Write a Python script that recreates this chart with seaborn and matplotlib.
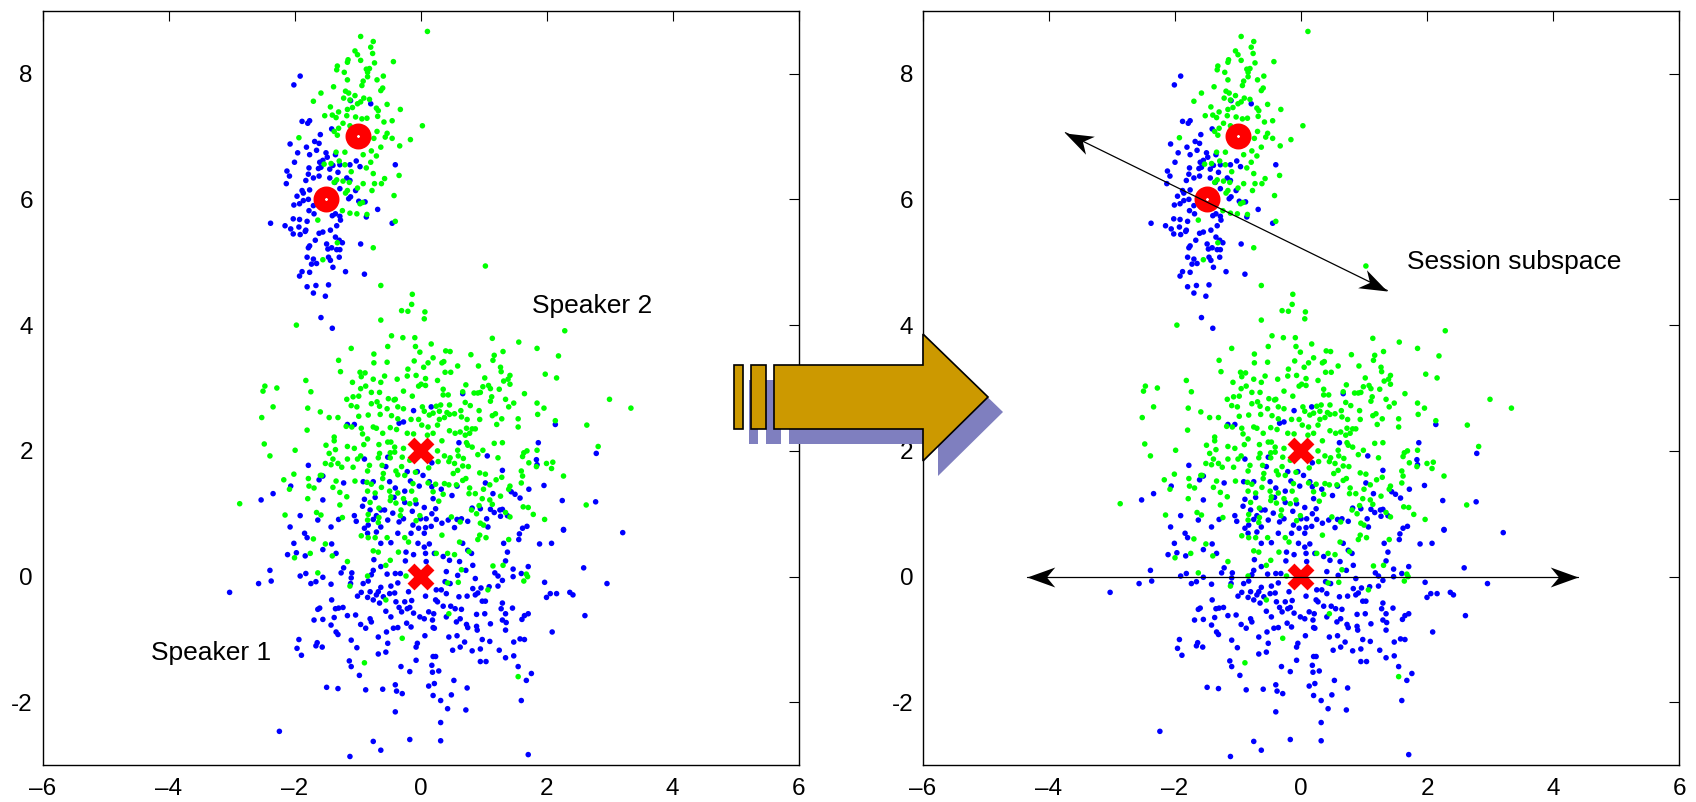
"""
Speaker / session subspace illustration: two scatter panels joined by a block arrow
"""
import math
import matplotlib
matplotlib.use("Agg")
import matplotlib.pyplot as plt
import seaborn as sns
import pandas as pd
from matplotlib.patches import Polygon
from matplotlib.markers import MarkerStyle

# points, (x, y)
# speaker 2 (upper cloud), session 1 = blue
spk2_sess1 = [
    (-1.91, 7.96), (-2.01, 7.82), (-1.88, 7.24), (-1.76, 7.25), (-1.79, 7.21), (-1.41, 7.12),
    (-1.59, 7.03), (-0.79, 7.52), (-1.11, 7.57), (-2.07, 6.88), (-1.68, 6.92), (-1.61, 6.89),
    (-1.81, 6.83), (-1.95, 6.74), (-1.76, 6.71), (-1.65, 6.78), (-1.50, 6.74), (-1.48, 6.67),
    (-1.35, 6.71), (-1.55, 6.62), (-2.00, 6.59), (-1.60, 6.59), (-1.77, 6.50), (-1.62, 6.49),
    (-1.58, 6.51), (-1.44, 6.48), (-1.39, 6.54), (-1.28, 6.55), (-1.12, 6.55), (-1.02, 6.61),
    (-2.12, 6.45), (-2.08, 6.37), (-1.78, 6.40), (-1.61, 6.37), (-1.31, 6.43), (-0.96, 6.52),
    (-0.40, 6.55), (-2.13, 6.25), (-1.82, 6.30), (-1.70, 6.34), (-1.44, 6.34), (-1.36, 6.27),
    (-1.17, 6.34), (-1.12, 6.30), (-1.88, 6.14), (-1.86, 6.10), (-1.76, 6.15), (-1.28, 6.17),
    (-1.03, 6.14), (-1.96, 6.05), (-1.86, 5.98), (-1.78, 6.00), (-2.01, 5.91), (-1.92, 5.93),
    (-1.70, 5.90), (-1.14, 6.01), (-1.11, 6.04), (-0.98, 5.97), (-0.88, 5.96), (-0.68, 5.84),
    (-0.86, 5.72), (-2.38, 5.62), (-2.15, 5.58), (-2.02, 5.69), (-1.92, 5.68), (-1.69, 5.77),
    (-1.77, 5.82), (-1.80, 5.65), (-1.40, 5.74), (-1.28, 5.73), (-1.35, 5.77), (-2.06, 5.53),
    (-1.93, 5.56), (-1.83, 5.49), (-1.33, 5.58), (-1.27, 5.67), (-0.45, 5.62), (-2.02, 5.45),
    (-1.91, 5.44), (-1.82, 5.51), (-1.67, 5.35), (-1.61, 5.46), (-1.55, 5.48), (-1.43, 5.51),
    (-1.35, 5.40), (-1.29, 5.35), (-1.49, 5.29), (-1.24, 5.31), (-1.41, 5.23), (-1.76, 5.26),
    (-1.78, 5.23), (-1.47, 5.21), (-1.33, 5.20), (-1.28, 5.20), (-0.95, 5.29), (-1.80, 5.08),
    (-1.70, 5.05), (-1.65, 4.98), (-1.46, 5.08), (-1.29, 5.08), (-1.43, 5.03), (-1.73, 4.97),
    (-1.39, 4.92), (-1.19, 4.85), (-0.89, 4.81), (-1.88, 4.85), (-1.92, 4.78), (-1.76, 4.84),
    (-1.80, 4.61), (-1.66, 4.63), (-1.46, 4.64), (-1.70, 4.51), (-1.51, 4.46), (-1.58, 4.12),
    (-1.40, 3.95),
]

# speaker 2, session 2 = green
spk2_sess2 = [
    (-0.95, 8.59), (-0.75, 8.51), (-0.79, 8.42), (-1.04, 8.36), (-0.76, 8.32), (-1.00, 8.30),
    (-1.15, 8.22), (-1.16, 8.18), (-0.95, 8.21), (-0.73, 8.17), (-0.43, 8.19), (-1.32, 8.12),
    (-1.33, 8.06), (-0.86, 8.07), (-0.81, 8.08), (-0.84, 8.02), (-1.21, 8.02), (-0.59, 7.96),
    (-0.69, 7.90), (-1.16, 7.90), (-0.91, 7.88), (-0.84, 7.95), (-1.38, 7.79), (-0.93, 7.81),
    (-0.60, 7.77), (-0.63, 7.73), (-1.19, 7.72), (-1.14, 7.69), (-1.58, 7.69), (-1.04, 7.65),
    (-1.22, 7.61), (-1.12, 7.58), (-0.90, 7.61), (-0.81, 7.59), (-1.70, 7.56), (-0.95, 7.55),
    (-1.00, 7.52), (-0.53, 7.51), (-1.43, 7.47), (-1.16, 7.43), (-1.08, 7.46), (-0.70, 7.45),
    (-0.32, 7.43), (-0.67, 7.41), (-1.30, 7.39), (-1.40, 7.34), (-1.34, 7.30), (-1.52, 7.33),
    (-1.17, 7.33), (-1.03, 7.31), (-0.93, 7.28), (-0.85, 7.29), (-0.68, 7.32), (-0.58, 7.23),
    (-0.45, 7.25), (-1.23, 7.21), (-1.12, 7.17), (-1.30, 7.13), (-1.37, 7.08), (0.03, 7.17),
    (-1.32, 7.02), (-0.69, 7.08), (-0.53, 7.05), (-0.56, 6.99), (-0.45, 6.97), (-0.16, 6.95),
    (-0.33, 6.85), (-0.74, 6.97), (-0.63, 6.83), (-0.78, 6.77), (-0.70, 6.69), (-0.91, 6.71),
    (-1.20, 6.75), (-1.34, 6.75), (-1.29, 6.61), (-1.20, 6.55), (-1.53, 6.56), (-1.42, 6.57),
    (-0.86, 6.50), (-0.75, 6.41), (-0.34, 6.38), (-1.10, 6.44), (-0.79, 6.59), (-1.33, 6.31),
    (-1.23, 6.29), (-1.13, 6.27), (-0.91, 6.25), (-0.73, 6.25), (-0.62, 6.25), (-0.57, 6.33),
    (-0.77, 6.14), (-1.00, 6.18), (-0.42, 6.06), (-1.19, 6.10), (-1.16, 6.14), (-1.37, 6.27),
    (-0.92, 5.95), (-0.96, 5.93), (-0.85, 5.76), (-1.24, 5.82), (-1.12, 5.78), (-1.01, 5.77),
    (-0.40, 5.65), (-1.63, 5.67), (-1.93, 6.98), (-1.32, 5.31), (-0.75, 5.23), (-1.55, 5.04),
    (0.11, 8.67), (1.03, 4.94),
]

# speaker 1 (lower cloud), session 1 = blue
spk1_sess1 = [
    (-0.11, 2.64), (0.17, 2.70), (-0.34, 2.44), (-1.05, 2.42), (-1.16, 2.42), (-0.27, 2.46),
    (0.18, 1.81), (-0.89, 1.87), (-0.52, 1.90), (-0.55, 1.75), (-0.21, 1.67), (-0.05, 1.67),
    (0.04, 1.61), (0.14, 1.51), (-1.78, 1.77), (-1.55, 1.60), (-1.61, 1.54), (-2.06, 1.44),
    (-2.34, 1.32), (-2.53, 1.22), (-1.55, 1.22), (-1.22, 1.49), (-0.91, 1.51), (-0.75, 1.51),
    (-0.49, 1.51), (-0.40, 1.41), (-0.25, 1.36), (-0.02, 1.44), (-0.16, 1.52), (0.18, 1.43),
    (-0.72, 1.26), (-0.89, 1.23), (-0.42, 1.26), (0.20, 1.24), (-0.25, 1.18), (-0.07, 1.16),
    (0.06, 1.10), (-0.92, 1.12), (-0.57, 1.06), (-0.44, 1.01), (-0.27, 0.92), (-0.13, 1.04),
    (0.00, 0.92), (0.09, 0.92), (0.18, 1.00), (-2.07, 0.79), (-1.91, 0.97), (-1.63, 0.90),
    (-1.30, 0.91), (-1.05, 0.97), (-1.02, 0.88), (-0.83, 0.82), (-0.75, 0.91), (-0.52, 0.90),
    (-0.34, 0.87), (-0.12, 0.82), (-1.42, 0.79), (-0.89, 0.77), (-0.63, 0.79), (-0.03, 0.77),
    (0.08, 0.78), (0.17, 0.80), (-0.63, 1.06), (-0.80, 1.06), (-0.70, 0.97),
    (0.67, 2.91), (0.61, 2.13), (1.06, 1.92), (1.30, 1.69), (1.84, 1.86), (1.87, 2.13),
    (2.14, 2.42), (2.79, 1.96), (1.85, 1.78), (1.03, 1.49), (1.15, 1.32), (1.72, 1.39),
    (1.96, 1.45), (1.44, 1.35), (1.50, 1.31), (2.25, 1.21), (2.78, 1.19), (0.33, 1.39),
    (0.58, 1.44), (0.50, 1.29), (0.24, 1.08), (0.82, 1.09), (0.95, 1.08), (1.11, 1.07),
    (1.17, 1.02), (1.26, 1.06), (1.30, 1.07), (1.27, 0.96), (1.38, 0.97), (1.58, 1.25),
    (0.25, 0.91), (0.34, 0.85), (0.44, 0.90), (0.54, 0.78), (0.58, 0.91), (0.65, 0.92),
    (0.75, 0.88), (1.05, 0.92), (1.07, 0.79), (1.62, 0.77), (1.69, 0.80), (2.27, 0.75),
    (-2.01, 0.53), (-1.80, 0.62), (-1.84, 0.69), (-2.11, 0.35), (-1.97, 0.38), (-1.83, 0.33),
    (-1.55, 0.43), (-1.41, 0.52), (-1.34, 0.37), (-2.39, 0.10), (-2.37, -0.07), (-2.57, -0.11),
    (-3.03, -0.25), (-1.91, 0.01), (-1.82, 0.05), (-1.74, -0.11), (-1.66, -0.08), (-1.55, -0.01),
    (-1.42, -0.12), (-1.26, 0.06), (-1.09, 0.06), (-1.22, 0.14), (-1.10, -0.02), (-1.11, -0.11),
    (-0.94, -0.25), (-1.00, -0.31), (-0.84, -0.33), (-0.80, -0.24), (-0.70, -0.29), (-0.91, -0.11),
    (-0.83, -0.07), (-0.78, 0.03), (-0.75, 0.10), (-0.74, 0.27), (-0.63, 0.16), (-0.53, 0.04),
    (-0.40, 0.05), (-0.36, -0.10), (-0.47, -0.15), (-0.63, -0.17), (-0.67, -0.24), (-0.75, -0.37),
    (-0.59, -0.32), (-0.49, -0.27), (-0.41, -0.26), (-0.32, 0.05), (-0.24, 0.25), (-0.11, 0.35),
    (-0.23, 0.39), (-0.04, 0.53), (0.06, 0.47), (0.14, 0.52), (0.08, 0.37), (0.09, 0.24),
    (0.08, -0.31), (-0.19, -0.24), (-0.14, -0.38), (-0.39, -0.40), (-0.25, -0.40), (-0.65, -0.42),
    (-0.55, -0.55), (-0.47, -0.64), (-0.34, -0.49), (-0.30, -0.56), (-0.21, -0.51), (-0.17, -0.49),
    (-0.11, -0.58), (-0.01, -0.64), (0.06, -0.67), (0.13, -0.56), (0.19, -0.69), (0.20, -0.81),
    (-0.43, -0.82), (-0.36, -0.81), (-0.22, -0.74), (-0.15, -0.80), (0.07, -0.94), (-0.05, -1.06),
    (-0.07, -1.12), (-0.07, -1.33), (-0.17, -1.51), (0.20, -1.27), (0.18, -1.41), (0.13, -1.74),
    (0.20, -1.89), (-0.54, -0.88), (-0.52, -1.06), (-0.67, -0.96), (-0.78, -0.72), (-0.95, -0.76),
    (-0.87, -0.82), (-0.80, -0.67), (-1.03, -0.61), (-1.16, -0.62), (-1.30, -0.50), (-1.37, -0.65),
    (-1.35, -0.51), (-1.41, -0.37), (-1.60, -0.50), (-1.63, -0.52), (-1.69, -0.69), (-1.55, -0.68),
    (-1.42, -0.77), (-1.31, -0.92), (-1.34, -0.88), (-1.23, -0.49), (-1.10, -1.01), (-1.01, -1.13),
    (-1.13, -1.34), (-1.10, -1.43), (-0.97, -1.57), (-0.67, -1.23), (-0.55, -1.20), (-0.31, -1.43),
    (-1.56, -1.12), (-1.66, -1.10), (-1.64, -1.05), (-1.93, -1.00), (-1.96, -1.14), (-1.89, -1.25),
    (-1.49, -1.76), (-1.31, -1.78), (-0.87, -1.80), (-0.60, -1.79), (-0.40, -1.72), (-0.38, -1.82),
    (-0.29, -1.86), (-0.40, -2.15), (-2.24, -2.46), (-0.75, -2.62), (-0.63, -2.76), (-0.17, -2.59),
    (-1.12, -2.86), (-0.84, 0.69), (-0.70, 0.71), (-0.63, 0.53), (-0.47, 0.54), (-0.36, 0.69),
    (-0.15, 0.69), (0.06, 0.69),
    (2.27, 0.74), (3.21, 0.70), (1.89, 0.52), (2.08, 0.53), (1.32, 0.53), (1.38, 0.39),
    (1.56, 0.59), (1.57, 0.68), (2.59, 0.14), (2.96, -0.11), (1.97, -0.09), (2.00, -0.33),
    (2.06, -0.27), (2.16, -0.27), (2.37, -0.25), (2.42, -0.29), (2.61, -0.62), (2.09, -0.88),
    (0.87, -0.03), (1.23, -0.15), (1.30, -0.06), (1.47, 0.12), (1.18, 0.06), (1.35, 0.25),
    (1.60, 0.05), (1.71, 0.16), (1.30, -0.42), (1.28, -0.51), (1.46, -0.50), (1.35, -0.59),
    (1.30, -0.69), (1.36, -0.73), (1.35, -0.85), (1.61, -0.68), (1.65, -0.62), (1.71, -0.59),
    (1.11, -0.75), (1.02, -0.59), (0.89, -0.60), (1.03, -0.39), (0.98, -0.39), (0.91, -0.26),
    (0.83, -0.19), (0.96, -0.18), (0.61, -0.32), (0.74, -0.31), (0.65, -0.52), (0.63, -0.67),
    (0.57, -0.72), (0.73, -0.76), (0.75, -0.81), (0.89, -0.79), (0.90, -0.85), (0.48, -0.47),
    (0.41, -0.64), (0.55, -0.51), (0.36, -0.47), (0.27, -0.40), (0.21, -0.59), (0.22, -0.82),
    (0.45, -0.96), (0.58, -0.94), (0.63, -1.12), (0.51, -1.17), (0.70, -1.04), (0.98, -1.00),
    (1.10, -1.03), (0.82, -1.18), (0.95, -1.15), (0.95, -1.35), (1.04, -1.35), (1.25, -1.17),
    (1.35, -1.29), (1.48, -1.26), (1.48, -1.04), (1.58, -0.99), (1.65, -1.00), (1.55, -1.43),
    (1.76, -1.54), (1.68, -1.65), (1.60, -1.97), (0.53, -1.65), (0.74, -1.77), (0.49, -1.88),
    (0.32, -1.97), (0.43, -2.10), (0.72, -2.12), (0.32, -2.32), (0.24, -1.27), (0.29, -1.50),
    (0.19, -1.52), (0.22, -1.70), (1.71, -2.83), (0.22, 0.37), (0.36, 0.32), (0.46, 0.26),
    (0.62, 0.24), (0.67, 0.53), (0.75, 0.42), (0.81, 0.37), (0.83, 0.18), (0.72, 0.10),
    (0.59, 0.02), (0.41, 0.08), (0.25, -0.21), (0.33, -0.21), (0.41, -0.27), (0.24, -0.37),
    (0.39, -0.08), (0.47, -0.11), (0.87, -0.29), (1.09, -0.16), (1.23, 0.01), (1.47, 0.00),
    (0.32, -2.61),
]

# speaker 1, session 2 = green
spk1_sess2 = [
    (-0.63, 4.63), (-0.13, 4.49), (-0.14, 4.33), (-0.30, 4.23), (-0.20, 4.22), (0.07, 4.21),
    (0.06, 4.10), (-0.63, 4.08), (-1.97, 4.00),
    (-0.46, 3.83), (-0.28, 3.80), (-0.09, 3.80), (0.17, 3.70), (-0.08, 3.66), (-0.52, 3.66),
    (-0.01, 3.57), (-1.10, 3.63), (-0.74, 3.54), (0.20, 3.48), (-0.53, 3.41), (-0.74, 3.40),
    (-1.30, 3.44), (-0.10, 3.43), (0.12, 3.40), (0.05, 3.33), (-0.20, 3.30), (-1.27, 3.26),
    (-0.96, 3.25), (-0.88, 3.24), (-1.08, 3.09), (-0.94, 3.18), (-0.75, 3.14), (-0.57, 3.19),
    (-0.37, 3.14), (-0.21, 3.19), (-0.07, 3.20), (0.08, 3.15), (-1.82, 3.12), (-2.47, 3.03),
    (-2.28, 3.00), (-2.50, 2.95), (-1.74, 2.94), (0.01, 3.06), (0.08, 3.04), (-0.03, 3.03),
    (-0.63, 3.09), (-0.78, 2.93), (-0.65, 2.93), (-0.27, 2.95), (-0.87, 3.03), (-0.95, 2.99),
    (-0.13, 2.87), (-1.07, 2.86), (-0.98, 2.87), (-1.17, 2.82), (-0.51, 2.83), (-0.40, 2.82),
    (-0.69, 2.78), (-0.65, 2.71), (-0.42, 2.81), (-1.10, 2.72), (-1.01, 2.70), (-0.78, 2.75),
    (-0.53, 2.67), (-0.36, 2.70), (-0.27, 2.67), (-2.34, 2.70), (-1.79, 2.68), (0.03, 2.70),
    (0.06, 2.63), (0.14, 2.57), (0.20, 2.60), (-1.59, 2.62), (-1.45, 2.53), (-1.31, 2.53),
    (-0.98, 2.55), (-0.83, 2.57), (-0.46, 2.56), (-0.36, 2.51), (-0.64, 2.58), (-2.52, 2.53),
    (-0.15, 2.50), (-0.03, 2.50), (0.02, 2.41), (0.12, 2.38), (-1.18, 2.39), (-1.09, 2.38),
    (-0.94, 2.36), (-0.75, 2.38), (-0.70, 2.36), (-0.48, 2.37), (-0.38, 2.34), (-1.80, 2.33),
    (-0.60, 2.28), (-0.21, 2.28), (-0.11, 2.27), (0.11, 2.25), (0.20, 2.28), (-1.37, 2.22),
    (-1.37, 2.16), (-0.92, 2.27), (-0.84, 2.19), (-0.52, 2.14), (-0.47, 2.14), (-0.66, 2.10),
    (-0.41, 2.06), (-2.48, 2.11), (-1.50, 2.09), (-1.16, 2.07), (-1.05, 2.04), (-0.90, 2.10),
    (-1.99, 2.01), (-2.39, 1.92), (-1.45, 1.96), (-1.35, 2.02), (-0.95, 1.92), (-0.65, 1.96),
    (-0.48, 1.97), (-0.41, 1.98), (-0.27, 2.04), (-0.29, 1.90), (-0.17, 1.85), (-1.39, 1.87),
    (-1.16, 1.87), (-1.00, 1.87), (-0.67, 1.89), (-0.48, 1.89), (-1.51, 1.80), (-1.31, 1.80),
    (-1.25, 1.74), (-1.42, 1.78), (-1.07, 1.74), (-0.81, 1.77), (-0.61, 1.77), (-0.39, 1.68),
    (-0.30, 1.75), (-0.08, 1.66), (0.13, 1.73), (-2.01, 1.63), (-1.59, 1.61), (-0.84, 1.68),
    (-0.59, 1.64), (-0.36, 1.62), (-0.25, 1.61), (-1.78, 1.56), (-1.57, 1.61), (-1.04, 1.52),
    (-0.85, 1.50), (-0.60, 1.56), (-2.17, 1.54), (-1.34, 1.52), (-0.78, 1.47), (-0.12, 1.48),
    (0.12, 1.49), (-2.08, 1.39), (-1.77, 1.44), (-1.69, 1.41), (-1.39, 1.42), (-0.62, 1.42),
    (-0.49, 1.36), (-0.14, 1.36), (-1.28, 1.34), (-0.84, 1.36), (-0.36, 1.33), (-1.17, 1.27),
    (-0.72, 1.33), (-0.47, 1.27), (-0.27, 1.24), (-0.08, 1.22), (-1.79, 1.24), (-2.87, 1.16),
    (-1.28, 1.14), (-0.80, 1.18), (-0.66, 1.09), (-0.48, 1.21), (-0.39, 1.17), (-0.17, 1.16),
    (-2.15, 0.98), (-1.65, 1.02), (-1.58, 0.98), (-1.24, 0.94), (-0.83, 0.99), (-0.66, 0.94),
    (-0.31, 1.06), (-0.32, 0.97), (-0.01, 0.97), (-0.84, 0.90), (-0.07, 0.89), (-0.67, 0.86),
    (2.29, 3.91), (1.14, 3.79), (1.56, 3.73), (1.85, 3.63), (0.40, 3.59), (0.47, 3.58),
    (1.31, 3.58), (0.80, 3.53), (1.17, 3.52), (1.15, 3.44), (2.19, 3.51), (0.37, 3.42),
    (0.34, 3.40), (0.59, 3.35), (0.92, 3.35), (0.48, 3.25), (0.39, 3.25), (1.27, 3.33),
    (1.28, 3.26), (1.42, 3.20), (1.98, 3.22), (2.16, 3.16), (1.39, 3.14), (1.32, 3.11),
    (1.02, 3.16), (1.08, 3.04), (0.99, 3.02), (1.11, 2.99), (0.72, 3.05), (1.25, 2.98),
    (1.42, 3.06), (0.27, 3.12), (0.36, 2.98), (0.44, 2.89), (0.36, 2.89), (0.67, 2.94),
    (0.85, 2.92), (0.91, 2.92), (0.95, 2.93), (1.13, 2.86), (1.65, 2.91), (1.35, 2.82),
    (3.00, 2.82), (3.34, 2.68), (1.11, 2.79), (0.71, 2.77), (0.46, 2.73), (0.32, 2.73),
    (0.25, 2.71), (0.30, 2.63), (0.79, 2.72), (0.93, 2.64), (1.40, 2.70), (1.48, 2.76),
    (1.85, 2.76), (1.96, 2.68), (1.86, 2.58), (0.64, 2.64), (0.42, 2.61), (0.46, 2.58),
    (0.54, 2.59), (0.38, 2.53), (0.30, 2.50), (0.27, 2.41), (0.65, 2.54), (0.74, 2.50),
    (0.94, 2.50), (1.14, 2.56), (1.19, 2.59), (1.29, 2.51), (1.55, 2.51), (1.21, 2.42),
    (1.55, 2.38), (2.64, 2.41), (2.14, 2.48), (0.46, 2.32), (0.55, 2.28), (0.63, 2.30),
    (0.73, 2.36), (0.82, 2.35), (0.87, 2.35), (0.71, 2.25), (0.78, 2.28), (0.34, 2.16),
    (0.73, 2.13), (0.75, 2.09), (0.82, 2.06), (1.17, 2.12), (1.30, 2.13), (1.64, 1.97),
    (1.69, 2.00), (1.85, 2.01), (1.62, 1.91), (1.72, 1.81), (1.84, 1.75), (2.00, 1.80),
    (2.10, 1.82), (2.08, 1.72), (2.27, 1.60), (2.82, 2.07), (0.27, 2.00), (0.38, 1.92),
    (0.47, 1.89), (0.59, 2.01), (0.60, 1.92), (0.68, 1.88), (0.91, 1.94), (0.99, 2.01),
    (1.23, 1.89), (0.28, 1.83), (0.54, 1.80), (0.45, 1.83), (0.67, 1.76), (0.76, 1.75),
    (0.59, 1.69), (0.52, 1.64), (0.94, 1.65), (1.03, 1.63), (1.20, 1.54), (1.29, 1.58),
    (1.60, 1.68), (1.62, 1.60), (0.24, 1.47), (0.38, 1.48), (0.45, 1.46), (0.57, 1.46),
    (0.67, 1.53), (0.72, 1.56), (0.78, 1.41), (0.87, 1.32), (1.00, 1.39), (1.10, 1.46),
    (1.42, 1.44), (1.60, 1.49), (0.20, 1.35), (0.29, 1.20), (0.36, 1.31), (0.77, 1.32),
    (0.98, 1.24), (1.10, 1.22), (1.27, 1.28), (1.40, 1.39), (1.63, 1.11), (1.71, 1.10),
    (1.14, 1.15), (0.81, 1.06), (0.93, 1.13), (1.35, 1.02), (1.42, 0.95), (1.79, 0.99),
    (1.97, 0.91), (2.63, 1.14), (0.49, 0.95), (0.89, 1.00), (0.63, 0.87), (0.95, 0.85),
    (1.00, 0.82),
    (-1.70, 0.60), (-1.51, 0.52), (-1.75, 0.37), (-2.00, 0.30), (-1.63, 0.06), (-1.40, 0.33),
    (-1.16, 0.24), (-1.12, -0.15), (-0.84, 0.01), (-0.55, -0.37), (-0.29, -0.98), (-0.89, -1.37),
    (-0.23, 0.01), (-0.55, 0.18), (-0.48, 0.26), (-0.35, 0.39), (-0.94, 0.65), (-0.83, 0.62),
    (-0.72, 0.62), (-0.53, 0.62), (-0.25, 0.62), (-0.19, 0.55), (-0.75, 0.41), (-0.67, 0.39),
    (1.40, 0.59), (1.15, 0.17), (1.31, 0.18), (1.68, 0.04), (1.64, -0.07), (1.70, 0.00),
    (1.07, -0.21), (0.45, -0.59), (1.55, -1.59), (0.77, 0.40), (0.62, 0.55), (0.54, 0.35),
    (0.43, 0.37), (0.25, 0.37), (0.34, 0.66), (0.94, 0.66), (1.04, 0.62), (0.91, 0.59),
    (0.65, 0.11), (0.60, -0.09), (0.43, -0.10),
]

# session means: speaker 2 as rings, speaker 1 as crosses
spk2_means = [(-1.5, 6.0), (-1.0, 7.0)]
spk1_means = [(0.0, 0.0), (0.0, 2.0)]

x_ticks = [-6, -4, -2, 0, 2, 4, 6]
x_labels = ["\u20136", "\u20134", "\u20132", "0", "2", "4", "6"]
y_ticks = [-2, 0, 2, 4, 6, 8]
y_labels = ["-2", "0", "2", "4", "6", "8"]

# double arrows in the right panel (data coords)
session_dir = [(-3.74, 7.06), (1.37, 4.55)]
speaker_dir = [(-4.35, 0.0), (4.40, 0.0)]

rows = [(x, y, "s1") for x, y in spk1_sess1 + spk2_sess1]
rows += [(x, y, "s2") for x, y in spk1_sess2 + spk2_sess2]
df = pd.DataFrame(rows, columns=["x", "y", "session"])

sns.set_theme(style="white")
plt.rcParams["font.family"] = ["Liberation Sans", "DejaVu Sans"]
plt.rcParams["text.color"] = "black"

W, H = 1696, 802
fig = plt.figure(figsize=(W / 100, H / 100), dpi=100)
ax1 = fig.add_axes([42.5 / W, 1 - 765.3 / H, 756 / W, 754.6 / H])
ax2 = fig.add_axes([923 / W, 1 - 765.3 / H, 756 / W, 754.6 / H])


def draw_panel(ax):
    sns.scatterplot(data=df, x="x", y="y", hue="session",
                    palette={"s1": "#0000ff", "s2": "#00ff00"},
                    s=16, linewidth=0, legend=False, ax=ax)
    mx, my = zip(*spk2_means)
    ax.plot(mx, my, "o", ms=10.5, mew=8.2, mec="#ff0000", mfc="white", zorder=5)
    mx, my = zip(*spk1_means)
    ax.plot(mx, my, "x", ms=15, mew=7, color="#ff0000", zorder=5)

    ax.set_xlim(-6, 6)
    ax.set_ylim(-3, 9)
    ax.set_xticks(x_ticks, x_labels)
    ax.set_yticks(y_ticks, y_labels)
    ax.set_xlabel("")
    ax.set_ylabel("")
    ax.tick_params(direction="in", top=True, right=True, length=7, width=0.8,
                   labelsize=17.5, color="black", labelcolor="black")
    ax.tick_params(axis="x", pad=9)
    ax.tick_params(axis="y", pad=7)
    for sp in ax.spines.values():
        sp.set_color("black")
        sp.set_linewidth(1.0)


draw_panel(ax1)
draw_panel(ax2)

ax1.text(1.77, 4.30, "Speaker 2", fontsize=19, va="center", ha="left")
ax1.text(-4.27, -1.22, "Speaker 1", fontsize=19, va="center", ha="left")
ax2.text(1.69, 5.01, "Session subspace", fontsize=19, va="center", ha="left")

# concave arrowhead pointing along +x, tip at the origin
head = [(0, 0), (-1, 0.36), (-0.7, 0), (-1, -0.36), (0, 0)]
for (x0, y0), (x1, y1) in [session_dir, speaker_dir]:
    ax2.plot([x0, x1], [y0, y1], color="black", lw=0.9, zorder=6)
    ang = math.degrees(math.atan2(y1 - y0, x1 - x0))
    for (px, py), a in [((x1, y1), ang), ((x0, y0), ang + 180)]:
        ax2.plot([px], [py], ls="none", marker=MarkerStyle(head).rotated(deg=a),
                 ms=40, mew=0, color="black", zorder=7)

# block arrow between panels, in figure pixels (y from top)
bars = [[(734, 365), (743, 365), (743, 429), (734, 429)],
        [(751, 365), (766, 365), (766, 429), (751, 429)],
        [(774, 365), (923, 365), (923, 334), (988, 397), (923, 461), (923, 429), (774, 429)]]


def to_fig(pts, dx=0, dy=0):
    return [((x + dx) / W, 1 - (y + dy) / H) for x, y in pts]


for pts in bars:
    fig.add_artist(Polygon(to_fig(pts, 15, 15), closed=True, transform=fig.transFigure,
                           facecolor="#7f7fbf", edgecolor="none", zorder=10))
for pts in bars:
    fig.add_artist(Polygon(to_fig(pts), closed=True, transform=fig.transFigure,
                           facecolor="#cc9900", edgecolor="black", lw=1.2, zorder=11))

fig.savefig("out.png", dpi=100, facecolor="white")
